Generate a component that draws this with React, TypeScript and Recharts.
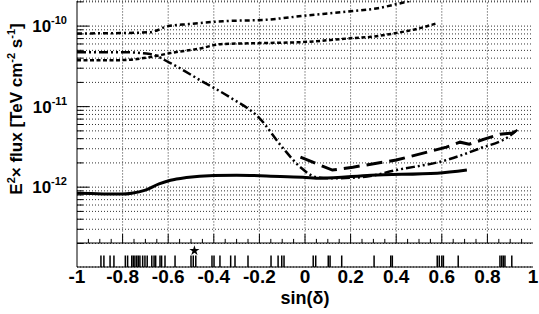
import React from "react";
import {
  ComposedChart,
  Line,
  Scatter,
  XAxis,
  YAxis,
  CartesianGrid,
  ReferenceLine,
  Symbols,
} from "recharts";

// sensitivity curves: sin(declination) vs E^2 x flux [TeV cm^-2 s^-1]
const solidSinDec = [-1, -0.8, -0.76, -0.7, -0.64, -0.59, -0.52, -0.4, -0.3, -0.15, -0.01, 0.07, 0.29, 0.58, 0.71];
const solidFlux = [8.4e-13, 8.2e-13, 8.4e-13, 9.2e-13, 1.1e-12, 1.22e-12, 1.32e-12, 1.4e-12, 1.41e-12, 1.37e-12, 1.33e-12, 1.29e-12, 1.41e-12, 1.49e-12, 1.63e-12];

const longDashSinDec = [-0.02, 0.12, 0.21, 0.4, 0.62, 0.68, 0.72, 0.8, 0.855, 0.91, 0.94];
const longDashFlux = [2.36e-12, 1.63e-12, 1.77e-12, 2.17e-12, 3.14e-12, 3.62e-12, 3.42e-12, 4.06e-12, 4.55e-12, 4.7e-12, 5.4e-12];

const dashDotDotSinDec = [-1, -0.81, -0.68, -0.59, -0.46, -0.33, -0.2, -0.1, -0.02, 0.05, 0.11, 0.25, 0.4, 0.62, 0.77, 0.89, 0.94];
const dashDotDotFlux = [4.75e-11, 4.75e-11, 4.5e-11, 3.47e-11, 2.13e-11, 1.31e-11, 7.2e-12, 3.14e-12, 1.77e-12, 1.33e-12, 1.29e-12, 1.33e-12, 1.63e-12, 2.17e-12, 3.05e-12, 4.18e-12, 5.4e-12];

const shortDashSinDec = [-1, -0.81, -0.68, -0.59, -0.46, -0.37, -0.2, -0.01, 0.21, 0.29, 0.4, 0.5, 0.58];
const shortDashFlux = [3.78e-11, 3.78e-11, 4.12e-11, 4.63e-11, 5.28e-11, 5.97e-11, 6.15e-11, 6.33e-11, 7.1e-11, 7.36e-11, 8.2e-11, 9.36e-11, 1.09e-10];

const dashDotSinDec = [-1, -0.81, -0.68, -0.6, -0.51, -0.36, -0.17, -0.01, 0.21, 0.32, 0.4, 0.46];
const dashDotFlux = [8.1e-11, 8.2e-11, 8.4e-11, 1.0e-10, 1.06e-10, 1.15e-10, 1.2e-10, 1.34e-10, 1.54e-10, 1.67e-10, 1.87e-10, 2.05e-10];

// source positions in the strip below the plot
const sourceSinDec = [
  -0.895, -0.882, -0.855, -0.838,
  -0.788, -0.778, -0.76, -0.753, -0.746, -0.738, -0.731, -0.724, -0.712, -0.702, -0.692,
  -0.672, -0.662, -0.655, -0.636, -0.629, -0.614,
  -0.57, -0.5, -0.49, -0.479, -0.408, -0.399, -0.373, -0.326, -0.307, -0.25,
  -0.149, -0.118, -0.102, -0.092,
  0.036, 0.047, 0.102, 0.11, 0.161, 0.303, 0.376, 0.383,
  0.58, 0.589, 0.6, 0.607, 0.672, 0.855, 0.863, 0.87, 0.877, 0.907,
];
const starSinDec = -0.485;

const xTickValues = [-1, -0.8, -0.6, -0.4, -0.2, 0, 0.2, 0.4, 0.6, 0.8, 1];
const gridSinDec = [-0.8, -0.6, -0.4, -0.2, 0, 0.2, 0.4, 0.6, 0.8];

const FONT = "'Liberation Sans', Arial, Helvetica, sans-serif";
const FLUX_MIN = 1.02e-13;
const FLUX_MAX = 2.05e-10;
const STRIP_MAX = 266 / 24;

const toPoints = (xs: number[], ys: number[]) => xs.map((x, i) => ({ x, y: ys[i] }));

const fluxTicks: number[] = [];
for (let e = -13; e <= -10; e++) {
  for (let m = 1; m <= 9; m++) {
    const v = m * Math.pow(10, e);
    if (v >= 2e-13 && v <= 2e-10) fluxTicks.push(v);
  }
}

const minorX: { v: number; major: boolean }[] = [];
for (let k = -19; k <= 19; k++) {
  minorX.push({ v: k * 0.05, major: k % 4 === 0 });
}

const FluxTick = (props: any) => {
  const { x, y, payload } = props;
  const v = payload.value;
  const e = Math.floor(Math.log10(v) + 1e-9);
  const major = Math.round(v / Math.pow(10, e)) === 1;
  return (
    <g>
      <line x1={x} y1={y} x2={x + (major ? 12 : 6)} y2={y} stroke="#000" />
      {major && (
        <text x={x - 10} y={y + 6} textAnchor="end" fontFamily={FONT} fontWeight="bold" fill="#000">
          <tspan fontSize={17}>10</tspan>
          <tspan fontSize={11} dy={-8}>{e}</tspan>
        </text>
      )}
    </g>
  );
};

const YTitle = (props: any) => {
  const vb = props.viewBox;
  const x = vb.x + 22;
  const y = vb.y + 108;
  return (
    <text
      x={x}
      y={y}
      transform={`rotate(-90, ${x}, ${y})`}
      textAnchor="middle"
      fontFamily={FONT}
      fontWeight="bold"
      fontSize={17}
      fill="#000"
    >
      E<tspan fontSize={11} dy={-7}>2</tspan>
      <tspan dy={7}>× flux [TeV cm</tspan>
      <tspan fontSize={11} dy={-7}>-2</tspan>
      <tspan dy={7}> s</tspan>
      <tspan fontSize={11} dy={-7}>-1</tspan>
      <tspan dy={7}>]</tspan>
    </text>
  );
};

const XTitle = (props: any) => {
  const vb = props.viewBox;
  return (
    <text
      x={vb.x + vb.width / 2}
      y={vb.y + 37}
      textAnchor="middle"
      fontFamily={FONT}
      fontWeight="bold"
      fontSize={18}
      fill="#000"
    >
      sin(δ)
    </text>
  );
};

const fmt = (v: number) => String(Number(v.toFixed(1)));

export default function App() {
  return (
    <div style={{ position: "absolute", left: 0, top: 0, width: 539, height: 314, background: "#fff" }}>
      <ComposedChart width={539} height={314} margin={{ top: 1, right: 6, bottom: 0, left: 0 }}>
        <CartesianGrid
          yAxisId="flux"
          vertical={false}
          stroke="#333"
          strokeDasharray="1 2"
        />
        <XAxis
          dataKey="x"
          type="number"
          domain={[-1, 1]}
          ticks={xTickValues}
          interval={0}
          tickFormatter={fmt}
          height={47}
          tickLine={false}
          tickSize={0}
          tickMargin={3}
          axisLine={{ stroke: "#000" }}
          tick={{ fontFamily: FONT, fontWeight: "bold", fontSize: 19, fill: "#000" }}
          label={XTitle}
          allowDataOverflow
        />
        <XAxis
          xAxisId="top"
          dataKey="x"
          type="number"
          orientation="top"
          domain={[-1, 1]}
          height={0}
          tick={false}
          tickLine={false}
          axisLine={{ stroke: "#000" }}
        />
        <YAxis
          yAxisId="flux"
          scale="log"
          type="number"
          domain={[FLUX_MIN, FLUX_MAX]}
          ticks={fluxTicks}
          interval={0}
          width={77}
          tickSize={0}
          tickMargin={0}
          tickLine={false}
          axisLine={{ stroke: "#000" }}
          tick={FluxTick}
          label={YTitle}
          allowDataOverflow
        />
        <YAxis
          yAxisId="strip"
          orientation="right"
          type="number"
          domain={[0, STRIP_MAX]}
          width={0}
          tick={false}
          tickLine={false}
          axisLine={{ stroke: "#000" }}
        />

        {gridSinDec.map((v) => (
          <ReferenceLine
            key={`g${v}`}
            yAxisId="flux"
            segment={[{ x: v, y: 2e-13 }, { x: v, y: FLUX_MAX }]}
            stroke="#333"
            strokeDasharray="1 2"
          />
        ))}
        <ReferenceLine yAxisId="strip" y={1} stroke="#000" />
        {minorX.map((t) => (
          <ReferenceLine
            key={`t${t.v}`}
            yAxisId="strip"
            segment={[{ x: t.v, y: 1 }, { x: t.v, y: t.major ? 1.375 : 1.17 }]}
            stroke="#000"
          />
        ))}
        {sourceSinDec.map((v, i) => (
          <ReferenceLine
            key={`s${i}`}
            yAxisId="strip"
            segment={[{ x: v, y: 0 }, { x: v, y: 0.48 }]}
            stroke="#000"
            strokeWidth={1.5}
          />
        ))}
        <Scatter
          yAxisId="strip"
          data={[{ x: starSinDec, y: 0.68 }]}
          dataKey="y"
          isAnimationActive={false}
          shape={(p: any) => <Symbols cx={p.cx} cy={p.cy} type="star" size={32} fill="#000" />}
        />

        <Line
          yAxisId="flux"
          data={toPoints(dashDotSinDec, dashDotFlux)}
          dataKey="y"
          type="monotone"
          stroke="#000"
          strokeWidth={2.5}
          strokeDasharray="5 3 2 3"
          dot={false}
          activeDot={false}
          isAnimationActive={false}
        />
        <Line
          yAxisId="flux"
          data={toPoints(shortDashSinDec, shortDashFlux)}
          dataKey="y"
          type="monotone"
          stroke="#000"
          strokeWidth={2.5}
          strokeDasharray="4 2.5"
          dot={false}
          activeDot={false}
          isAnimationActive={false}
        />
        <Line
          yAxisId="flux"
          data={toPoints(dashDotDotSinDec, dashDotDotFlux)}
          dataKey="y"
          type="monotone"
          stroke="#000"
          strokeWidth={2.5}
          strokeDasharray="9 3 2 3 2 3"
          dot={false}
          activeDot={false}
          isAnimationActive={false}
        />
        <Line
          yAxisId="flux"
          data={toPoints(longDashSinDec, longDashFlux)}
          dataKey="y"
          type="linear"
          stroke="#000"
          strokeWidth={3}
          strokeDasharray="16 7"
          dot={false}
          activeDot={false}
          isAnimationActive={false}
        />
        <Line
          yAxisId="flux"
          data={toPoints(solidSinDec, solidFlux)}
          dataKey="y"
          type="monotone"
          stroke="#000"
          strokeWidth={3}
          dot={false}
          activeDot={false}
          isAnimationActive={false}
        />
      </ComposedChart>
    </div>
  );
}
